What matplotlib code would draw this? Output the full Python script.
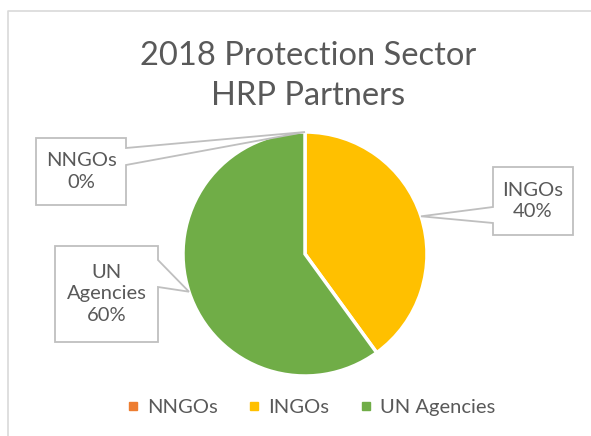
import numpy as np
import matplotlib.pyplot as plt
from matplotlib.patches import Polygon
from matplotlib.lines import Line2D

plt.rcParams['font.family'] = ['Lato', 'DejaVu Sans']

categories = ["NNGOs", "INGOs", "UN Agencies"]
shares = [0, 40, 60]
colors = ["#ED7D31", "#FFC000", "#70AD47"]
title = "2018 Protection Sector\nHRP Partners"
txt = "#595959"
W, H = 591, 436

fig = plt.figure(figsize=(W / 100, H / 100), dpi=100)
ax = fig.add_axes([0, 0, 1, 1])
ax.set_xlim(0, W)
ax.set_ylim(0, H)
ax.set_aspect("equal")
ax.axis("off")

# chart border (only top and left visible)
ax.plot([8, 8, W + 5], [-5, H - 11, H - 11], color="#D9D9D9", lw=1.2)

cx, cy, r = 305, H - 254, 122
ax.pie(shares, colors=colors, startangle=90, counterclock=False,
       center=(cx, cy), radius=r, frame=True,
       wedgeprops=dict(edgecolor="white", linewidth=2.5))
ax.set_xlim(0, W)
ax.set_ylim(0, H)
ax.axis("off")

ax.text(308, H - 76, title, ha="center", va="center", fontsize=23.5,
        color=txt, linespacing=1.45)

# callout boxes: (x0, y0, x1, y1) in px from top, side of pointer, pointer base y range
boxes = {
    "NNGOs": ((36, 138, 126, 205), "right", (148, 165)),
    "INGOs": ((493, 167, 573, 235), "left", (207, 223)),
    "UN Agencies": ((55, 246, 158, 342), "right", (260, 287)),
}
labels = {"NNGOs": "NNGOs\n0%", "INGOs": "INGOs\n40%", "UN Agencies": "UN\nAgencies\n60%"}

total = sum(shares)
start = 90.0
for cat, val in zip(categories, shares):
    sweep = 360.0 * val / total
    mid = np.deg2rad(start - sweep / 2)
    start -= sweep
    tip = (cx + r * np.cos(mid), cy + r * np.sin(mid))
    (x0, y0, x1, y1), side, (p0, p1) = boxes[cat]
    y0, y1, p0, p1 = H - y0, H - y1, H - p0, H - p1
    if side == "right":
        pts = [(x0, y0), (x1, y0), (x1, p0), tip, (x1, p1), (x1, y1), (x0, y1)]
    else:
        pts = [(x0, y0), (x1, y0), (x1, y1), (x0, y1), (x0, p1), tip, (x0, p0)]
    ax.add_patch(Polygon(pts, closed=True, facecolor="white",
                         edgecolor="#BFBFBF", lw=1.3, zorder=5))
    ax.text((x0 + x1) / 2, (y0 + y1) / 2, labels[cat], ha="center", va="center",
            fontsize=14.5, color=txt, linespacing=1.3, zorder=6)

handles = [Line2D([], [], marker="s", ls="", color=c, markersize=6) for c in colors]
fig.legend(handles, categories, loc="center", bbox_to_anchor=(311 / W, 1 - 407 / H),
           ncol=3, frameon=False, fontsize=14.5, labelcolor=txt,
           handlelength=0.6, handletextpad=0.4, columnspacing=1.5)

fig.savefig("out.png", dpi=100)
